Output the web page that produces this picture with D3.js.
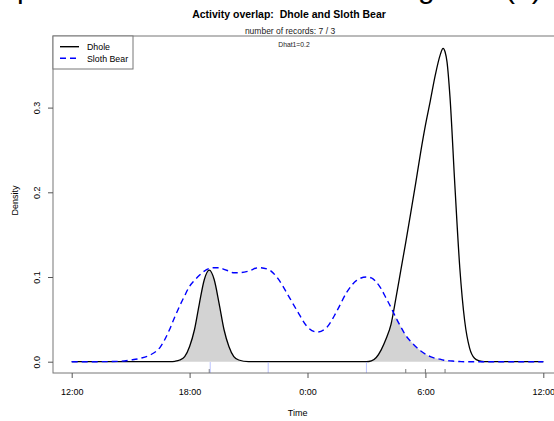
<!DOCTYPE html>
<html>
<head>
<meta charset="utf-8">
<script src="https://cdn.jsdelivr.net/npm/d3@7"></script>
<style>
  body { margin: 0; background: #fff; }
  svg { display: block; font-family: "Liberation Sans", Arial, sans-serif; }
  text { white-space: pre; }
</style>
</head>
<body>
<svg id="chart" width="554" height="421"></svg>
<script>
// hours after 12:00 (noon-centred clock)
const hours = [0, 1, 2, 2.5, 3, 3.5, 4, 4.5, 5, 5.25, 5.5, 5.75, 6, 6.25, 6.5, 6.75, 7, 7.25, 7.5, 7.75,
  8, 8.25, 8.5, 9, 9.5, 10, 10.5, 11, 11.5, 12, 12.5, 13, 13.5, 14, 14.5, 15, 15.25, 15.5, 15.75,
  16, 16.25, 16.5, 16.75, 17, 17.25, 17.5, 17.75, 18, 18.25, 18.5, 18.75, 18.9, 19, 19.1, 19.25,
  19.5, 19.75, 20, 20.25, 20.5, 20.75, 21, 22, 23, 24]

const dhole = [0, 0, 0, 0, 0, 0, 0, 0, 0, 0.0005, 0.002, 0.006, 0.018, 0.038, 0.069, 0.097, 0.108, 0.097, 0.069, 0.038,
  0.018, 0.006, 0.002, 0, 0, 0, 0, 0, 0, 0, 0, 0, 0, 0, 0, 0, 0.001, 0.005, 0.014,
  0.027, 0.044, 0.075, 0.108, 0.141, 0.175, 0.210, 0.246, 0.279, 0.308, 0.338, 0.362, 0.370, 0.366, 0.354, 0.313,
  0.208, 0.111, 0.048, 0.016, 0.004, 0.001, 0, 0, 0, 0]

const slothBear = [0, 0, 0.0002, 0.0006, 0.002, 0.004, 0.008, 0.017, 0.039, 0.053, 0.066, 0.078, 0.089, 0.096, 0.102, 0.107, 0.110, 0.111, 0.111, 0.109,
  0.107, 0.105, 0.105, 0.107, 0.111, 0.109, 0.098, 0.079, 0.059, 0.041, 0.035, 0.041, 0.060, 0.082, 0.096, 0.100, 0.099, 0.094, 0.086,
  0.075, 0.064, 0.052, 0.041, 0.031, 0.024, 0.018, 0.013, 0.009, 0.006, 0.004, 0.003, 0.002, 0.0015, 0.0012, 0.001,
  0.0005, 0.0002, 0, 0, 0, 0, 0, 0, 0, 0]

// record times (hours after 12:00) for the rugs
const dholeRecords = [7.0, 17.0, 18.0, 19.0]
const slothRecords = [7.05, 10.0, 15.0]

const xTicks = [0, 6, 12, 18, 24]
const xTickLabels = ['12:00', '18:00', '0:00', '6:00', '12:00']
const yTicks = [0, 0.1, 0.2, 0.3]

const svg = d3.select('#chart')

const x = d3.scaleLinear().domain([0, 24]).range([71.7, 543.3])
const y = d3.scaleLinear().domain([0, 0.3]).range([361.7, 107.6])

const box = { left: 53, top: 36, right: 562, bottom: 373 }

// cut-off caption line above the figure, only descenders show
svg.append('g')
  .attr('font-size', 30)
  .selectAll('text')
  .data([['p', 17], ['g', 418], ['(a)', 505]])
  .enter().append('text')
    .attr('x', d => d[1])
    .attr('y', -2)
    .text(d => d[0])

const rows = hours.map((h, i) => ({ h: h, a: dhole[i], b: slothBear[i] }))

// overlap shading
svg.append('path')
  .datum(rows)
  .attr('fill', '#d3d3d3')
  .attr('d', d3.area()
    .x(d => x(d.h))
    .y0(y(0))
    .y1(d => y(Math.min(d.a, d.b)))
    .curve(d3.curveMonotoneX))

svg.append('path')
  .datum(rows)
  .attr('fill', 'none')
  .attr('stroke', '#000')
  .attr('stroke-width', 1.3)
  .attr('d', d3.line().x(d => x(d.h)).y(d => y(d.a)).curve(d3.curveMonotoneX))

svg.append('path')
  .datum(rows)
  .attr('fill', 'none')
  .attr('stroke', '#0000ff')
  .attr('stroke-width', 1.4)
  .attr('stroke-dasharray', '6,4')
  .attr('d', d3.line().x(d => x(d.h)).y(d => y(d.b)).curve(d3.curveMonotoneX))

// rugs
svg.selectAll('.rugA')
  .data(dholeRecords)
  .enter().append('line')
    .attr('class', 'rugA')
    .attr('x1', d => x(d)).attr('x2', d => x(d))
    .attr('y1', box.bottom).attr('y2', box.bottom - 4)
    .attr('stroke', '#555')
    .attr('stroke-width', 0.8)

svg.selectAll('.rugB')
  .data(slothRecords)
  .enter().append('line')
    .attr('class', 'rugB')
    .attr('x1', d => x(d)).attr('x2', d => x(d))
    .attr('y1', box.bottom).attr('y2', box.bottom - 11)
    .attr('stroke', '#aab4ff')
    .attr('stroke-width', 0.8)

// plot box
svg.append('rect')
  .attr('x', box.left)
  .attr('y', box.top)
  .attr('width', box.right - box.left)
  .attr('height', box.bottom - box.top)
  .attr('fill', 'none')
  .attr('stroke', '#777')
  .attr('stroke-width', 1)

const xAxis = svg.append('g')
  .attr('transform', `translate(0,${box.bottom})`)
  .call(d3.axisBottom(x)
    .tickValues(xTicks)
    .tickSize(5)
    .tickPadding(11)
    .tickFormat((d, i) => xTickLabels[i]))
xAxis.select('.domain').remove()
xAxis.selectAll('line').attr('stroke', '#555')
xAxis.selectAll('text')
  .attr('font-family', '"Liberation Sans", Arial, sans-serif')
  .attr('font-size', 9)
  .attr('fill', '#000')

const yAxis = svg.append('g')
  .attr('transform', `translate(${box.left},0)`)
  .call(d3.axisLeft(y)
    .tickValues(yTicks)
    .tickSize(5)
    .tickFormat(d3.format('.1f')))
yAxis.select('.domain').remove()
yAxis.selectAll('line').attr('stroke', '#555')
yAxis.selectAll('text')
  .attr('font-family', '"Liberation Sans", Arial, sans-serif')
  .attr('font-size', 9)
  .attr('fill', '#000')
  .attr('x', 0)
  .attr('dy', 0)
  .attr('text-anchor', 'middle')
  .attr('transform', 'translate(-13,0) rotate(-90)')

// axis titles
svg.append('text')
  .attr('x', (box.left + 543.3 + 18.9) / 2 - 10)
  .attr('y', 416)
  .attr('text-anchor', 'middle')
  .attr('font-size', 9)
  .text('Time')

svg.append('text')
  .attr('transform', `translate(18,${(box.top + box.bottom) / 2 - 4}) rotate(-90)`)
  .attr('text-anchor', 'middle')
  .attr('font-size', 9)
  .text('Density')

// titles
svg.append('text')
  .attr('x', 289)
  .attr('y', 18)
  .attr('text-anchor', 'middle')
  .attr('font-size', 10.5)
  .attr('font-weight', 'bold')
  .text('Activity overlap:  Dhole and Sloth Bear')

svg.append('text')
  .attr('x', 290)
  .attr('y', 34)
  .attr('text-anchor', 'middle')
  .attr('font-size', 8.5)
  .attr('fill', '#222')
  .text('number of records: 7 / 3')

svg.append('text')
  .attr('x', 294)
  .attr('y', 47)
  .attr('text-anchor', 'middle')
  .attr('font-size', 6.8)
  .attr('fill', '#222')
  .text('Dhat1=0.2')

// legend
const legend = svg.append('g')
legend.append('rect')
  .attr('x', 53)
  .attr('y', 36)
  .attr('width', 80)
  .attr('height', 33)
  .attr('fill', '#fff')
  .attr('stroke', '#777')

const keys = [
  { name: 'Dhole', colour: '#000', dash: null },
  { name: 'Sloth Bear', colour: '#0000ff', dash: '6,4' }
]

keys.forEach((k, i) => {
  const yy = 46.7 + i * 11.6
  legend.append('line')
    .attr('x1', 60).attr('x2', 79)
    .attr('y1', yy).attr('y2', yy)
    .attr('stroke', k.colour)
    .attr('stroke-width', 1.4)
    .attr('stroke-dasharray', k.dash)
  legend.append('text')
    .attr('x', 87)
    .attr('y', yy + 3.2)
    .attr('font-size', 8.8)
    .text(k.name)
})
</script>
</body>
</html>
